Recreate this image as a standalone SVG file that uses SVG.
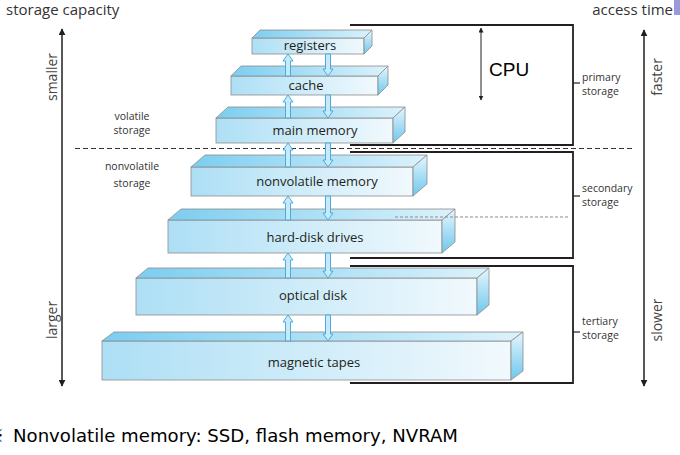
<svg xmlns="http://www.w3.org/2000/svg" width="680" height="455" viewBox="0 0 680 455">
<style>
.front{fill:url(#gFront);stroke:#8c8c8c;stroke-width:0.8}
.top{fill:url(#gTop);stroke:#8c8c8c;stroke-width:0.8}
.side{fill:url(#gSide);stroke:#8c8c8c;stroke-width:0.8}
.lbl{font-family:"Open Sans","Lato",sans-serif;font-size:13px;fill:#231f20;text-anchor:middle}
.small{font-family:"Open Sans","Lato",sans-serif;font-size:10.5px;fill:#333}
.axis{font-family:"Open Sans","Lato",sans-serif;font-size:14px;fill:#444}
.title{font-family:"Open Sans","Lato",sans-serif;font-size:15px;fill:#333}
.brk{stroke:#231f20;stroke-width:1.8;fill:none}
.arr{fill:#c6eaf9;stroke:#3aa6db;stroke-width:0.9}
.ax{stroke:#231f20;stroke-width:1.5}
</style>
<defs>
<linearGradient id="gFront" x1="0" y1="0" x2="1" y2="0"><stop offset="0" stop-color="#addff5"/><stop offset="1" stop-color="#f1f9fd"/></linearGradient>
<linearGradient id="gTop" x1="0" y1="0" x2="1" y2="0"><stop offset="0" stop-color="#7ccdf0"/><stop offset="1" stop-color="#dcf2fb"/></linearGradient>
<linearGradient id="gSide" x1="0" y1="0" x2="0" y2="1"><stop offset="0" stop-color="#e6f6fd"/><stop offset="1" stop-color="#6ec7ee"/></linearGradient>
<marker id="ah" viewBox="0 0 10 10" refX="9" refY="5" markerWidth="7" markerHeight="7" markerUnits="userSpaceOnUse" orient="auto-start-reverse"><path d="M0,0 L10,5 L0,10 z" fill="#231f20"/></marker>
<marker id="ahs" viewBox="0 0 10 10" refX="9" refY="5" markerWidth="5" markerHeight="5" markerUnits="userSpaceOnUse" orient="auto-start-reverse"><path d="M0,0 L10,5 L0,10 z" fill="#231f20"/></marker>
</defs>
<rect width="680" height="455" fill="#fff"/>

<!-- titles and axes -->
<text class="title" x="6" y="15">storage capacity</text>
<text class="title" x="673" y="15" text-anchor="end">access time</text>
<rect x="674" y="0" width="6" height="15" fill="#9a9ad8"/>
<line class="ax" x1="62" y1="29" x2="62" y2="386" marker-start="url(#ah)" marker-end="url(#ah)"/>
<line class="ax" x1="644" y1="30" x2="644" y2="386" marker-start="url(#ah)" marker-end="url(#ah)"/>
<text class="axis" transform="translate(57,77) rotate(-90)" text-anchor="middle">smaller</text>
<text class="axis" transform="translate(57,320) rotate(-90)" text-anchor="middle">larger</text>
<text class="axis" transform="translate(662,77) rotate(-90)" text-anchor="middle">faster</text>
<text class="axis" transform="translate(662,320) rotate(-90)" text-anchor="middle">slower</text>

<!-- dashed separators -->
<line x1="75" y1="148.5" x2="632" y2="148.5" stroke="#333" stroke-width="1" stroke-dasharray="5,3"/>

<!-- brackets -->
<path class="brk" d="M350,25 H573 V145 H350"/>
<path class="brk" d="M350,152 H573 V258 H350"/>
<path class="brk" d="M350,266 H573 V383 H350"/>
<line x1="573" y1="83" x2="580" y2="83" stroke="#231f20" stroke-width="1.2"/>
<line x1="573" y1="196" x2="580" y2="196" stroke="#231f20" stroke-width="1.2"/>
<line x1="573" y1="332" x2="580" y2="332" stroke="#231f20" stroke-width="1.2"/>
<text class="small" x="582" y="81">primary</text>
<text class="small" x="582" y="95">storage</text>
<text class="small" x="582" y="192">secondary</text>
<text class="small" x="582" y="206">storage</text>
<text class="small" x="582" y="325">tertiary</text>
<text class="small" x="582" y="339">storage</text>
<text class="small" x="132" y="120" text-anchor="middle">volatile</text>
<text class="small" x="132" y="134" text-anchor="middle">storage</text>
<text class="small" x="132" y="170" text-anchor="middle">nonvolatile</text>
<text class="small" x="132" y="187" text-anchor="middle">storage</text>

<!-- CPU -->
<line x1="481" y1="28" x2="481" y2="100" stroke="#231f20" stroke-width="1" marker-start="url(#ahs)" marker-end="url(#ahs)"/>
<text x="489" y="76" font-family="'Liberation Sans',Arial,sans-serif" font-size="19" fill="#000">CPU</text>

<!-- nodes -->
<g id="registers">
<rect class="front" x="252" y="38" width="112" height="16"/>
<polygon class="top" points="252,38 260,30 372,30 364,38"/>
<polygon class="side" points="364,38 372,30 372,46 364,54"/>
<text class="lbl" x="310" y="50">registers</text>
</g>
<g id="cache">
<rect class="front" x="231" y="76" width="147" height="19"/>
<polygon class="top" points="231,76 241,66 388,66 378,76"/>
<polygon class="side" points="378,76 388,66 388,85 378,95"/>
<text class="lbl" x="306" y="90">cache</text>
</g>
<g id="main-memory">
<rect class="front" x="216" y="118" width="177" height="25"/>
<polygon class="top" points="216,118 228,107 405,107 393,118"/>
<polygon class="side" points="393,118 405,107 405,132 393,143"/>
<text class="lbl" x="315" y="135">main memory</text>
</g>
<g id="nonvolatile-memory">
<rect class="front" x="191" y="167" width="222" height="29"/>
<polygon class="top" points="191,167 205,155 427,155 413,167"/>
<polygon class="side" points="413,167 427,155 427,184 413,196"/>
<text class="lbl" x="317" y="186">nonvolatile memory</text>
</g>
<g id="hard-disk-drives">
<rect class="front" x="168" y="220" width="274" height="33"/>
<polygon class="top" points="168,220 181,209 455,209 442,220"/>
<polygon class="side" points="442,220 455,209 455,242 442,253"/>
<text class="lbl" x="315" y="242">hard-disk drives</text>
</g>
<g id="optical-disk">
<rect class="front" x="136" y="278" width="341" height="37"/>
<polygon class="top" points="136,278 148,268 489,268 477,278"/>
<polygon class="side" points="477,278 489,268 489,305 477,315"/>
<text class="lbl" x="313" y="300">optical disk</text>
</g>
<g id="magnetic-tapes">
<rect class="front" x="102" y="341" width="409" height="39"/>
<polygon class="top" points="102,341 114,332 523,332 511,341"/>
<polygon class="side" points="511,341 523,332 523,371 511,380"/>
<text class="lbl" x="314" y="367">magnetic tapes</text>
</g>

<line x1="395" y1="217" x2="568" y2="217" stroke="#8a8a8a" stroke-width="1" stroke-dasharray="3,2"/>

<!-- connectors -->
<g id="connectors">
<polygon class="arr" points="288,54 293,61 290.5,61 290.5,76 285.5,76 285.5,61 283,61"/>
<polygon class="arr" points="328,76 333,69 330.5,69 330.5,54 325.5,54 325.5,69 323,69"/>
<polygon class="arr" points="288,95 293,102 290.5,102 290.5,118 285.5,118 285.5,102 283,102"/>
<polygon class="arr" points="328,118 333,111 330.5,111 330.5,95 325.5,95 325.5,111 323,111"/>
<polygon class="arr" points="288,143 293,150 290.5,150 290.5,167 285.5,167 285.5,150 283,150"/>
<polygon class="arr" points="328,167 333,160 330.5,160 330.5,143 325.5,143 325.5,160 323,160"/>
<polygon class="arr" points="288,196 293,203 290.5,203 290.5,220 285.5,220 285.5,203 283,203"/>
<polygon class="arr" points="328,220 333,213 330.5,213 330.5,196 325.5,196 325.5,213 323,213"/>
<polygon class="arr" points="288,253 293,260 290.5,260 290.5,278 285.5,278 285.5,260 283,260"/>
<polygon class="arr" points="328,278 333,271 330.5,271 330.5,253 325.5,253 325.5,271 323,271"/>
<polygon class="arr" points="288,315 293,322 290.5,322 290.5,341 285.5,341 285.5,322 283,322"/>
<polygon class="arr" points="328,341 333,334 330.5,334 330.5,315 325.5,315 325.5,334 323,334"/>
</g>

<!-- footnote -->
<text x="4" y="442" text-anchor="end" font-family="'Noto Sans CJK KR',sans-serif" font-size="17" fill="#000">※</text>
<text x="13" y="442" font-family="'DejaVu Sans',sans-serif" font-size="17" fill="#000" textLength="445" lengthAdjust="spacingAndGlyphs">Nonvolatile memory: SSD, flash memory, NVRAM</text>
</svg>
